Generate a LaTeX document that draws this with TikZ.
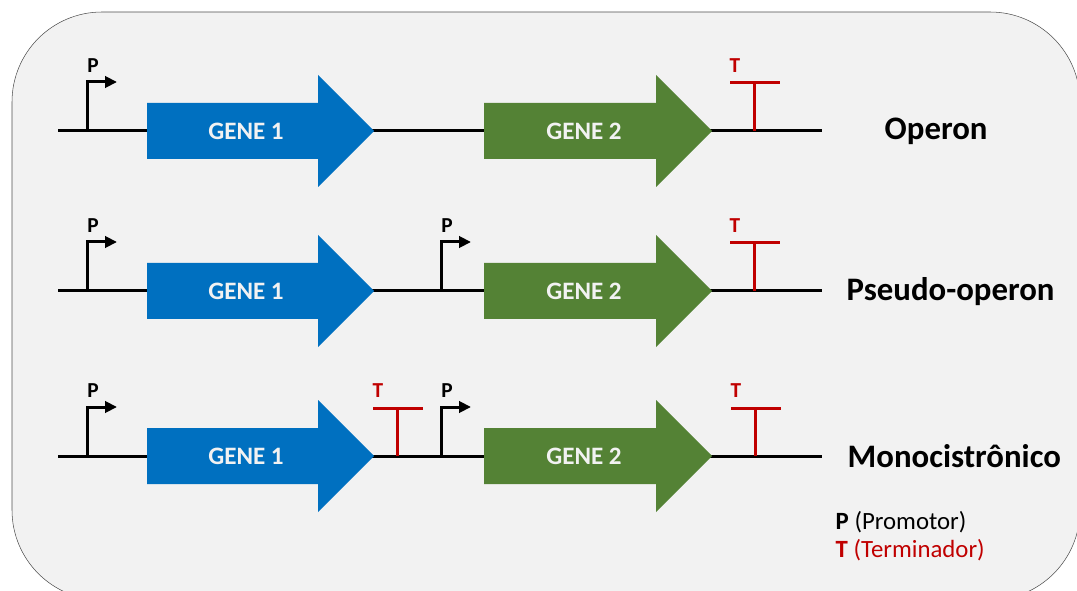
\documentclass[tikz,border=0pt]{standalone}
\usepackage{fontspec}
\setmainfont{Carlito}
\usetikzlibrary{arrows.meta,calc}
\definecolor{geneum}{HTML}{0070C0}
\definecolor{genedois}{HTML}{548235}
\definecolor{termcor}{HTML}{C00000}
\definecolor{fundo}{HTML}{F2F2F2}
\definecolor{borda}{HTML}{505050}
\tikzset{
  dna/.style={line width=2.25pt},
  prom/.style={line width=2.25pt,-{Triangle[length=9pt,width=8.5pt]}},
  termo/.style={line width=2.25pt,draw=termcor},
  genetxt/.style={text=fundo,font=\fontsize{18.8}{18.8}\selectfont\bfseries},
  rotulo/.style={anchor=west,font=\fontsize{24.6}{24.6}\selectfont\bfseries},
  letra/.style={font=\fontsize{16}{16}\selectfont\bfseries},
  legenda/.style={anchor=west,font=\fontsize{18.6}{18.6}\selectfont}
}
\begin{document}
\begin{tikzpicture}[x=0.75pt,y=-0.75pt,line join=miter]
\useasboundingbox (0,0) rectangle (1077,591);
\draw[draw=borda,fill=fundo,rounded corners=67.5pt] (12,12) rectangle (1080,600);
% linhas e genes
\foreach \y/\n in {131/a,291/b,456/c}{
  \draw[dna] (58,\y) -- (822,\y);
  \fill[geneum] (147,\y-28) -- (318,\y-28) -- (318,\y-56) -- (374,\y) -- (318,\y+56) -- (318,\y+28) -- (147,\y+28) -- cycle;
  \fill[genedois] (484,\y-28) -- (656,\y-28) -- (656,\y-56) -- (712,\y) -- (656,\y+56) -- (656,\y+28) -- (484,\y+28) -- cycle;
  \node[genetxt] (g1\n) at (246,\y) {GENE 1};
  \node[genetxt] (g2\n) at (584,\y) {GENE 2};
}
% promotores
\foreach \x/\y in {87/131,87/291,441/291,87/456,441/456}{
  \draw[prom] (\x,\y) -- (\x,\y-49) -- (\x+30,\y-49);
  \node[letra] at (\x+6,\y-65) {P};
}
% terminadores
\foreach \x/\y in {754/131,754/291,397/456,755/456}{
  \draw[termo] (\x,\y) -- (\x,\y-48);
  \draw[termo] (\x-24,\y-48) -- (\x+26,\y-48);
  \node[letra,text=termcor] at (\x-19,\y-65) {T};
}
\node[rotulo] (op) at (880,131) {Operon};
\node[rotulo] (ps) at (842,292) {Pseudo-operon};
\node[rotulo] (mo) at (843,456) {Monocistrônico};
\node[legenda] (lp) at (831,522) {\textbf{P} (Promotor)};
\node[legenda,text=termcor] (lt) at (831,550) {\textbf{T} (Terminador)};
\end{tikzpicture}
\end{document}
